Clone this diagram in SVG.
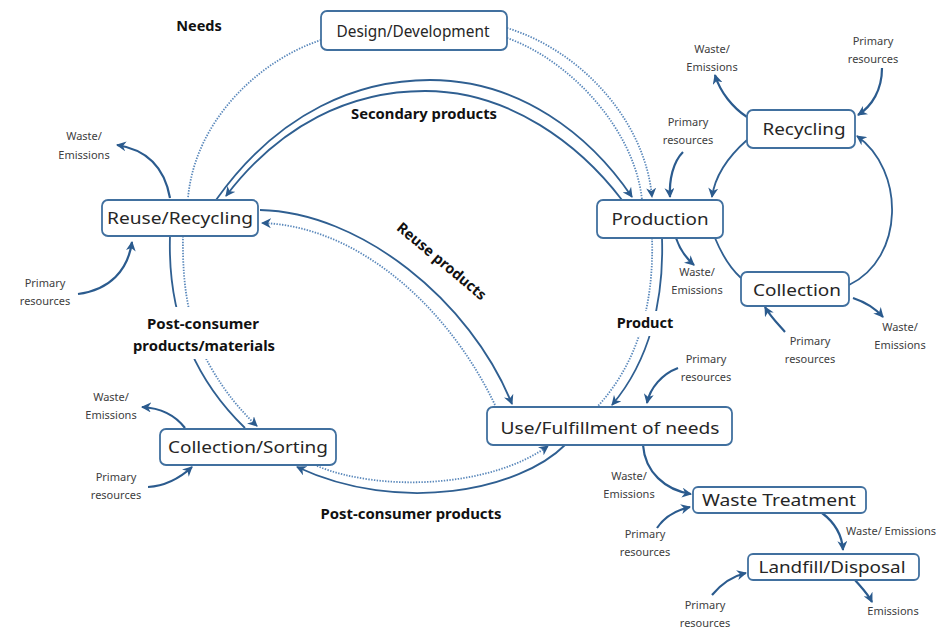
<svg xmlns="http://www.w3.org/2000/svg" width="941" height="630" viewBox="0 0 941 630">
<style>
.node rect{fill:#fff;stroke:#41709f;stroke-width:1.8}
.nl{font-family:"Noto Sans","Liberation Sans",sans-serif;font-size:17px;fill:#262626;text-anchor:middle}
.sm{font-family:"Noto Sans","Liberation Sans",sans-serif;font-size:11px;fill:#404040;text-anchor:middle}
.bd{font-family:"Noto Sans","Liberation Sans",sans-serif;font-size:14.5px;font-weight:bold;fill:#111;text-anchor:middle}
.s{fill:none;stroke:#2f5f91;stroke-width:1.8}
.d{fill:none;stroke:#5a88bb;stroke-width:1.8;stroke-dasharray:1.4 1.4}
.a{fill:none;stroke:#2b5b8e;stroke-width:2.2}
</style>
<defs>
<marker id="ah" viewBox="0 0 10 10" refX="9" refY="5" markerWidth="10" markerHeight="10" markerUnits="userSpaceOnUse" orient="auto">
<path d="M0,0 L10,5 L0,10 L3,5 Z" fill="#2b5b8e"/>
</marker>
</defs>
<rect width="941" height="630" fill="#fff"/>

<g id="connectors">
<path class="d" d="M321,40 C260,60 195,120 188,198"/>
<path class="d" d="M183,236 C182,290 190,330 210,366 C225,392 240,410 257,426" marker-end="url(#ah)"/>
<path class="s" d="M170,236 C168,300 185,370 245,428"/>
<path class="s" d="M565,445 C520,490 400,515 297,467" marker-end="url(#ah)"/>
<path class="d" d="M317,466 C380,492 490,488 548,446" marker-end="url(#ah)"/>
<path class="d" d="M652,238 C654,300 640,360 598,406"/>
<path class="s" d="M662,238 C664,300 650,360 612,405" marker-end="url(#ah)"/>
<path class="d" d="M507,28 C580,50 645,120 652,197" marker-end="url(#ah)"/>
<path class="d" d="M507,38 C570,60 635,130 642,200"/>
<path class="s" d="M216,200 C280,110 360,80 430,80 C520,80 590,135 632,197" marker-end="url(#ah)"/>
<path class="s" d="M622,200 C580,145 510,91 425,91 C350,91 280,125 226,196" marker-end="url(#ah)"/>
<path class="s" d="M260,210 C360,212 470,300 512,404" marker-end="url(#ah)"/>
<path class="d" d="M495,405 C450,310 360,226 262,223" marker-end="url(#ah)"/>
<path class="s" d="M747,140 C730,155 715,175 712,197" marker-end="url(#ah)"/>
<path class="s" d="M715,238 C722,255 730,268 741,278"/>
<path class="s" d="M849,285 C905,258 905,170 857,136" marker-end="url(#ah)"/>
<path class="a" d="M170,198 C165,170 150,150 117,145" marker-end="url(#ah)"/>
<path class="a" d="M78,294 C110,290 128,270 132,242" marker-end="url(#ah)"/>
<path class="a" d="M747,117 C733,108 720,92 715,75" marker-end="url(#ah)"/>
<path class="a" d="M882,68 C882,90 872,106 858,115" marker-end="url(#ah)"/>
<path class="a" d="M683,152 C673,162 669,180 670,197" marker-end="url(#ah)"/>
<path class="a" d="M676,238 C680,250 686,258 694,265" marker-end="url(#ah)"/>
<path class="a" d="M853,298 C865,302 875,308 883,317" marker-end="url(#ah)"/>
<path class="a" d="M785,332 C778,324 770,316 765,307" marker-end="url(#ah)"/>
<path class="a" d="M185,428 C175,415 160,408 142,407" marker-end="url(#ah)"/>
<path class="a" d="M148,487 C165,486 180,478 192,467" marker-end="url(#ah)"/>
<path class="a" d="M678,368 C662,374 650,388 647,403" marker-end="url(#ah)"/>
<path class="a" d="M643,445 C645,472 665,490 691,494" marker-end="url(#ah)"/>
<path class="a" d="M657,528 C665,516 677,510 690,507" marker-end="url(#ah)"/>
<path class="a" d="M822,513 C834,522 842,535 843,550" marker-end="url(#ah)"/>
<path class="a" d="M712,595 C722,583 733,576 746,573" marker-end="url(#ah)"/>
<path class="a" d="M855,580 C862,588 868,594 872,602" marker-end="url(#ah)"/>
</g>

<g id="labels">
<text class="bd" x="199" y="31">Needs</text>
<text class="bd" x="424" y="119" textLength="146" lengthAdjust="spacingAndGlyphs">Secondary products</text>
<rect x="611" y="311" width="70" height="25" fill="#fff"/>
<text class="bd" x="645" y="328">Product</text>
<rect x="128" y="307" width="152" height="52" fill="#fff"/>
<text class="bd" x="203" y="329" textLength="112" lengthAdjust="spacingAndGlyphs">Post-consumer</text>
<text class="bd" x="204" y="351" textLength="142" lengthAdjust="spacingAndGlyphs">products/materials</text>
<text class="bd" x="411" y="519" textLength="181" lengthAdjust="spacingAndGlyphs">Post-consumer products</text>
<text class="bd" x="441" y="266" transform="rotate(40 441 262)" font-size="12.5">Reuse products</text>

<text class="sm" x="84" y="140">Waste/</text>
<text class="sm" x="84" y="159">Emissions</text>
<text class="sm" x="45" y="287">Primary</text>
<text class="sm" x="45" y="305">resources</text>
<text class="sm" x="712" y="53">Waste/</text>
<text class="sm" x="712" y="71">Emissions</text>
<text class="sm" x="873" y="45">Primary</text>
<text class="sm" x="873" y="63">resources</text>
<text class="sm" x="688" y="126">Primary</text>
<text class="sm" x="688" y="144">resources</text>
<text class="sm" x="697" y="276">Waste/</text>
<text class="sm" x="697" y="294">Emissions</text>
<text class="sm" x="810" y="345">Primary</text>
<text class="sm" x="810" y="363">resources</text>
<text class="sm" x="900" y="331">Waste/</text>
<text class="sm" x="900" y="349">Emissions</text>
<text class="sm" x="111" y="401">Waste/</text>
<text class="sm" x="111" y="419">Emissions</text>
<text class="sm" x="116" y="481">Primary</text>
<text class="sm" x="116" y="499">resources</text>
<text class="sm" x="706" y="363">Primary</text>
<text class="sm" x="706" y="381">resources</text>
<text class="sm" x="629" y="480">Waste/</text>
<text class="sm" x="629" y="498">Emissions</text>
<text class="sm" x="645" y="538">Primary</text>
<text class="sm" x="645" y="556">resources</text>
<text class="sm" x="891" y="535">Waste/ Emissions</text>
<text class="sm" x="705" y="609">Primary</text>
<text class="sm" x="705" y="627">resources</text>
<text class="sm" x="893" y="615">Emissions</text>
</g>

<g id="design" class="node"><rect x="321" y="11" width="186" height="39" rx="6"/><text class="nl" x="413" y="37" font-size="16" textLength="153" lengthAdjust="spacingAndGlyphs">Design/Development</text></g>
<g id="reuse" class="node"><rect x="102" y="200" width="156" height="36" rx="6"/><text class="nl" x="180" y="224" font-size="18" textLength="146" lengthAdjust="spacingAndGlyphs">Reuse/Recycling</text></g>
<g id="production" class="node"><rect x="597" y="200" width="126" height="38" rx="6"/><text class="nl" x="660" y="225" font-size="19" textLength="97" lengthAdjust="spacingAndGlyphs">Production</text></g>
<g id="recycling" class="node"><rect x="747" y="110" width="108" height="38" rx="6"/><text class="nl" x="804" y="135" font-size="19" textLength="83" lengthAdjust="spacingAndGlyphs">Recycling</text></g>
<g id="collection" class="node"><rect x="741" y="272" width="108" height="34" rx="6"/><text class="nl" x="797" y="296" font-size="18" textLength="88" lengthAdjust="spacingAndGlyphs">Collection</text></g>
<g id="collsort" class="node"><rect x="160" y="429" width="176" height="36" rx="6"/><text class="nl" x="248" y="453" font-size="18" textLength="160" lengthAdjust="spacingAndGlyphs">Collection/Sorting</text></g>
<g id="use" class="node"><rect x="487" y="407" width="245" height="38" rx="6"/><text class="nl" x="610" y="434" font-size="18" textLength="219" lengthAdjust="spacingAndGlyphs">Use/Fulfillment of needs</text></g>
<g id="waste" class="node"><rect x="693" y="487" width="173" height="26" rx="5"/><text class="nl" x="779" y="506" font-size="18" textLength="154" lengthAdjust="spacingAndGlyphs">Waste Treatment</text></g>
<g id="landfill" class="node"><rect x="748" y="554" width="171" height="26" rx="5"/><text class="nl" x="832" y="573" font-size="18" textLength="147" lengthAdjust="spacingAndGlyphs">Landfill/Disposal</text></g>
</svg>
